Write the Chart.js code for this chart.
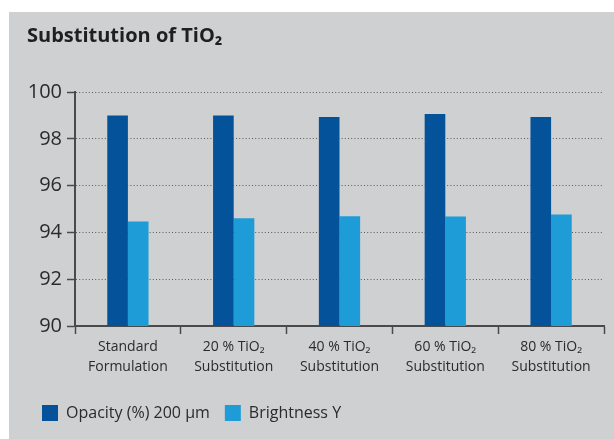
<!DOCTYPE html>
<html>
<head>
<meta charset="utf-8">
<script src="https://cdn.jsdelivr.net/npm/chart.js@4"></script>
<style>
  html, body { margin: 0; padding: 0; background: #ffffff; }
  #wrap { position: absolute; left: 9px; top: 12px; width: 605px; height: 427px; background: #cfd0d2; }
  canvas { display: block; }
</style>
</head>
<body>
<div id="wrap"><canvas id="chart" width="605" height="427"></canvas></div>
<script>
// Chart data
const categories = [
  ['Standard', 'Formulation'],
  ['20 % TiO\u2082', 'Substitution'],
  ['40 % TiO\u2082', 'Substitution'],
  ['60 % TiO\u2082', 'Substitution'],
  ['80 % TiO\u2082', 'Substitution']
];
const opacity = [99.0, 99.0, 98.93, 99.06, 98.93];
const brightness = [94.47, 94.6, 94.69, 94.68, 94.77];
const yMin = 90;
const yMax = 100;
const yStep = 2;

const FONT = "'Open Sans', 'Noto Sans', sans-serif";
const TEXT = '#2b2b2b';
const AXIS = '#4a4a4a';

const ctx = document.getElementById('chart').getContext('2d');
new Chart(ctx, {
  type: 'bar',
  data: {
    labels: categories,
    datasets: [
      {
        label: 'Opacity (%) 200 \u00b5m',
        data: opacity,
        backgroundColor: '#04529a'
      },
      {
        label: 'Brightness Y',
        data: brightness,
        backgroundColor: '#1e9cd7'
      }
    ]
  },
  options: {
    responsive: false,
    animation: false,
    devicePixelRatio: 1,
    datasets: {
      bar: { categoryPercentage: 0.39, barPercentage: 1.0 }
    },
    layout: {
      padding: { left: 18, right: 10, top: 0, bottom: 8 }
    },
    plugins: {
      tooltip: { enabled: false },
      title: {
        display: true,
        text: 'Substitution of TiO\u2082',
        align: 'start',
        color: '#1f1f1f',
        font: { family: FONT, size: 20, weight: 'bold', lineHeight: 1.2 },
        padding: { top: 12, bottom: 44 }
      },
      legend: {
        position: 'bottom',
        align: 'start',
        labels: {
          boxWidth: 16,
          boxHeight: 16,
          padding: 15,
          color: TEXT,
          font: { family: FONT, size: 16 }
        }
      }
    },
    scales: {
      x: {
        afterFit: (scale) => { scale.height = 64; },
        grid: {
          drawOnChartArea: false,
          drawTicks: true,
          tickLength: 8,
          tickColor: AXIS,
          tickWidth: 1.5
        },
        border: { display: true, color: AXIS, width: 2 },
        ticks: {
          color: TEXT,
          padding: 3,
          maxRotation: 0,
          autoSkip: false,
          font: { family: FONT, size: 14, lineHeight: 1.45 }
        }
      },
      y: {
        min: yMin,
        max: yMax,
        afterFit: (scale) => { scale.width = 48; },
        grid: {
          color: '#5a5a5a',
          lineWidth: 1,
          drawTicks: true,
          tickLength: 8,
          tickColor: AXIS,
          tickWidth: 1.5,
          tickBorderDash: []
        },
        border: { display: true, color: AXIS, width: 2, dash: [1, 2.2] },
        ticks: {
          stepSize: yStep,
          color: TEXT,
          padding: 5,
          font: { family: FONT, size: 20 }
        }
      }
    }
  }
});
</script>
</body>
</html>
